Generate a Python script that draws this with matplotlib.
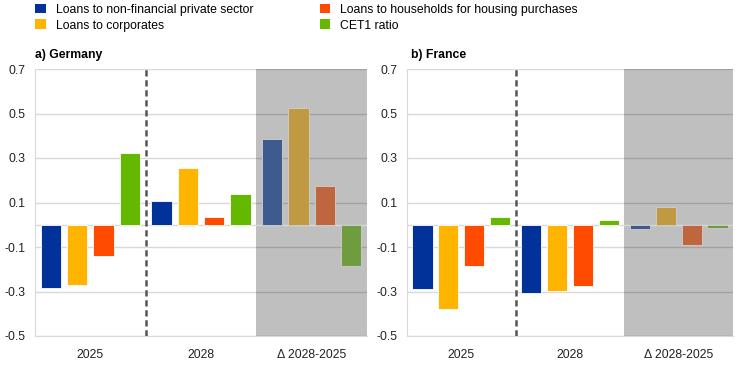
import numpy as np
import matplotlib
matplotlib.use("Agg")
import matplotlib.pyplot as plt
from matplotlib.patches import Patch

plt.rcParams['font.family'] = ['Liberation Sans', 'DejaVu Sans']

# Data
series = ["Loans to non-financial private sector", "Loans to corporates",
          "Loans to households for housing purchases", "CET1 ratio"]
groups = ["2025", "2028", "\u0394 2028-2025"]

germany = {
    "2025":  [-0.284, -0.269, -0.142, 0.324],
    "2028":  [0.106, 0.256, 0.036, 0.138],
    "delta": [0.387, 0.523, 0.176, -0.187],
}
france = {
    "2025":  [-0.287, -0.380, -0.184, 0.036],
    "2028":  [-0.308, -0.296, -0.277, 0.022],
    "delta": [-0.019, 0.081, -0.093, -0.015],
}
yticks = [-0.5, -0.3, -0.1, 0.1, 0.3, 0.5, 0.7]

# Styles
colors       = ["#003299", "#FFB400", "#FF4B00", "#65B800"]
colors_delta = ["#3E5A8E", "#C09A42", "#C0663F", "#709C40"]
offsets = np.array([-0.357, -0.119, 0.119, 0.357])
width = 0.185
grid_col = "#D9D9D9"
fs = 8.8

fig = plt.figure(figsize=(7.44, 3.65), dpi=100)
ax_de = fig.add_axes([35/744, 1-336/365, 332/744, 267/365])
ax_fr = fig.add_axes([407/744, 1-336/365, 326/744, 267/365])


def draw(ax, data):
    keys = ["2025", "2028", "delta"]
    for g, key in enumerate(keys):
        if key == "delta":
            cols, ec = colors_delta, "#CFCFCF"
        else:
            cols, ec = colors, "white"
        ax.bar(g + offsets, data[key], width=width, color=cols,
               edgecolor=ec, linewidth=0.6, zorder=3)
    ax.axvspan(1.5, 2.5, color="black", alpha=0.25, lw=0, zorder=1)
    ax.axvline(0.5, color="#555555", lw=1.8, ls=(0, (2.5, 1.5)), zorder=4)
    for y in yticks:
        ax.axhline(y, color=grid_col, lw=1.0, zorder=0)
    ax.axhline(0, color=grid_col, lw=1.0, zorder=2)
    ax.set_xlim(-0.5, 2.5)
    ax.set_ylim(-0.5, 0.7)
    ax.set_yticks(yticks)
    ax.set_yticklabels(["%.1f" % v for v in yticks])
    ax.set_xticks(range(3))
    ax.set_xticklabels(groups)
    ax.tick_params(length=0, labelsize=fs, colors="#222222")
    ax.tick_params(axis="x", pad=9)
    ax.tick_params(axis="y", pad=7)
    for s in ["top", "right"]:
        ax.spines[s].set_visible(False)
    for s in ["left", "bottom"]:
        ax.spines[s].set_color(grid_col)
        ax.spines[s].set_zorder(0)


draw(ax_de, germany)
draw(ax_fr, france)

fig.text(35/744, 1-55/365, "a) Germany", fontsize=8.8, fontweight="bold", va="center")
fig.text(411/744, 1-55/365, "b) France", fontsize=8.8, fontweight="bold", va="center")

handles = [Patch(facecolor=c, edgecolor="none") for c in colors]
fig.legend(handles, series, ncol=2, loc="upper left",
           bbox_to_anchor=(28/744, 1.01), frameon=False, fontsize=fs,
           handlelength=0.85, handleheight=0.85, handletextpad=0.85,
           columnspacing=5.4, labelspacing=0.3, borderaxespad=0.2)

fig.savefig("out.png", dpi=100)
